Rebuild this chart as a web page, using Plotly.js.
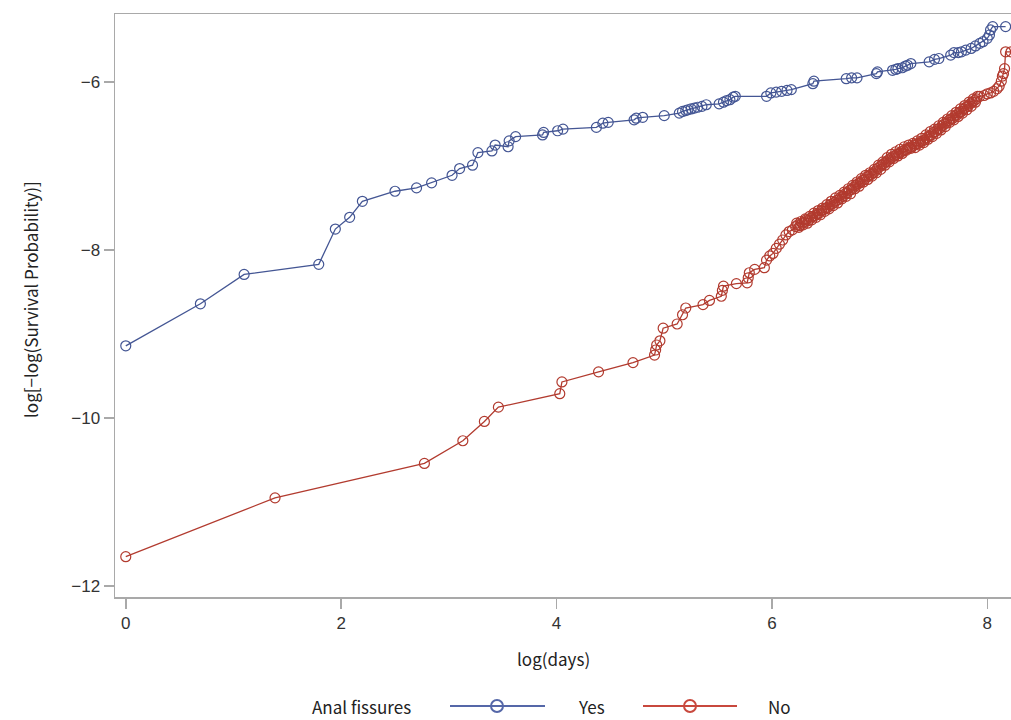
<!DOCTYPE html>
<html>
<head>
<meta charset="utf-8">
<script src="https://cdn.plot.ly/plotly-3.0.1.min.js"></script>
<style>html,body{margin:0;padding:0;overflow:hidden;background:#fff;}</style>
</head>
<body>
<div id="chart" style="width:1011px;height:720px;"></div>
<script>
// Series "Yes" (anal fissures present)
const yesX = [0, 0.693, 1.099, 1.792, 1.946, 2.079, 2.197, 2.50, 2.70, 2.84, 3.03, 3.10, 3.22, 3.27, 3.40, 3.43, 3.55, 3.56, 3.62, 3.87, 3.88, 4.01, 4.06, 4.37, 4.43, 4.48, 4.72, 4.74, 4.80, 5.00, 5.14, 5.17, 5.20, 5.22, 5.25, 5.28, 5.31, 5.35, 5.39, 5.51, 5.55, 5.58, 5.61, 5.64, 5.66, 5.95, 5.99, 6.04, 6.09, 6.14, 6.18, 6.38, 6.39, 6.69, 6.74, 6.79, 6.97, 6.98, 7.12, 7.15, 7.17, 7.21, 7.24, 7.26, 7.29, 7.46, 7.51, 7.55, 7.66, 7.69, 7.73, 7.76, 7.80, 7.85, 7.89, 7.93, 7.96, 8.00, 8.02, 8.03, 8.05, 8.17];
const yesY = [-9.14, -8.64, -8.29, -8.17, -7.75, -7.61, -7.42, -7.30, -7.26, -7.20, -7.11, -7.03, -6.99, -6.84, -6.82, -6.75, -6.77, -6.70, -6.65, -6.63, -6.60, -6.58, -6.56, -6.54, -6.49, -6.48, -6.45, -6.43, -6.42, -6.40, -6.37, -6.35, -6.34, -6.33, -6.32, -6.31, -6.30, -6.29, -6.27, -6.26, -6.24, -6.22, -6.21, -6.18, -6.17, -6.17, -6.13, -6.12, -6.11, -6.10, -6.09, -6.02, -5.99, -5.96, -5.95, -5.95, -5.90, -5.88, -5.86, -5.85, -5.84, -5.83, -5.81, -5.80, -5.78, -5.76, -5.73, -5.72, -5.68, -5.65, -5.65, -5.64, -5.62, -5.60, -5.57, -5.54, -5.52, -5.48, -5.44, -5.38, -5.34, -5.34];

// Series "No"
const noX = [0, 1.386, 2.773, 3.13, 3.33, 3.46, 4.03, 4.05, 4.39, 4.71, 4.91, 4.92, 4.93, 4.96, 4.99, 5.12, 5.17, 5.20, 5.36, 5.42, 5.53, 5.54, 5.55, 5.67, 5.77, 5.78, 5.79, 5.84, 5.93, 5.95, 5.98, 6.01, 6.04, 6.07, 6.10, 6.13, 6.16, 6.19, 6.22,
  6.24, 6.26, 6.28, 6.30, 6.32, 6.34, 6.36, 6.38, 6.40, 6.42, 6.44, 6.46, 6.48, 6.50, 6.52, 6.54, 6.56, 6.58, 6.60, 6.62, 6.64, 6.66, 6.68, 6.70, 6.72, 6.74, 6.76, 6.78, 6.80, 6.82, 6.84, 6.86, 6.88, 6.90, 6.92, 6.94, 6.96, 6.98, 7.00, 7.02, 7.04, 7.06, 7.08, 7.10, 7.12, 7.14, 7.16, 7.18, 7.20, 7.22, 7.24, 7.26, 7.28,
  7.30, 7.32, 7.34, 7.36, 7.38, 7.40, 7.42, 7.44, 7.46, 7.48, 7.50, 7.52, 7.54, 7.56, 7.58, 7.60, 7.62, 7.64, 7.66, 7.68, 7.70, 7.72, 7.74, 7.76, 7.78, 7.80, 7.82, 7.84, 7.86, 7.88, 7.90,
  7.93, 7.97, 8.00, 8.03, 8.06, 8.09, 8.11, 8.13, 8.14, 8.15, 8.16, 8.17, 8.22];
const noY = [-11.65, -10.95, -10.54, -10.27, -10.04, -9.87, -9.71, -9.57, -9.45, -9.34, -9.25, -9.19, -9.13, -9.08, -8.93, -8.88, -8.77, -8.69, -8.65, -8.60, -8.55, -8.48, -8.43, -8.40, -8.39, -8.33, -8.27, -8.23, -8.21, -8.12, -8.07, -8.04, -7.98, -7.93, -7.88, -7.82, -7.78, -7.76, -7.72,
  -7.70, -7.71, -7.68, -7.67, -7.64, -7.65, -7.62, -7.60, -7.59, -7.57, -7.56, -7.53, -7.52, -7.50, -7.49, -7.46, -7.45, -7.43, -7.41, -7.40, -7.37, -7.36, -7.33, -7.32, -7.29, -7.28, -7.25, -7.23, -7.21, -7.20, -7.17, -7.16, -7.13, -7.12, -7.10, -7.08, -7.06, -7.03, -7.01, -6.99, -6.97, -6.95, -6.93, -6.91, -6.89, -6.88, -6.86, -6.85, -6.83, -6.82, -6.80, -6.79, -6.78,
  -6.77, -6.75, -6.74, -6.73, -6.71, -6.70, -6.69, -6.66, -6.64, -6.63, -6.60, -6.59, -6.56, -6.55, -6.52, -6.50, -6.49, -6.46, -6.44, -6.43, -6.40, -6.39, -6.36, -6.35, -6.32, -6.30, -6.29, -6.26, -6.24, -6.22, -6.20,
  -6.17, -6.16, -6.14, -6.13, -6.11, -6.08, -6.05, -5.99, -5.93, -5.90, -5.84, -5.64, -5.64];
// Additional "No" points in the crowded stretch (read as the scatter around the band)
const noExtraX = [6.23, 6.25, 6.27, 6.29, 6.31, 6.33, 6.35, 6.37, 6.39, 6.41, 6.43, 6.45, 6.47, 6.49, 6.51, 6.53, 6.55, 6.57, 6.59, 6.61, 6.63, 6.65, 6.67, 6.69, 6.71, 6.73, 6.75, 6.77, 6.79, 6.81, 6.83, 6.85, 6.87, 6.89, 6.91, 6.93, 6.95, 6.97, 6.99, 7.01, 7.03, 7.05, 7.07, 7.09, 7.11, 7.13, 7.15, 7.17, 7.19, 7.21, 7.23, 7.25, 7.27, 7.29, 7.31, 7.33, 7.35, 7.37, 7.39, 7.41, 7.43, 7.45, 7.47, 7.49, 7.51, 7.53, 7.55, 7.57, 7.59, 7.61, 7.63, 7.65, 7.67, 7.69, 7.71, 7.73, 7.75, 7.77, 7.79, 7.81, 7.83, 7.85, 7.87, 7.89, 7.91];
const noExtraY = [-7.68, -7.73, -7.66, -7.70, -7.63, -7.68, -7.60, -7.64, -7.56, -7.61, -7.53, -7.58, -7.50, -7.54, -7.46, -7.51, -7.42, -7.47, -7.38, -7.44, -7.35, -7.39, -7.31, -7.36, -7.27, -7.33, -7.23, -7.27, -7.19, -7.24, -7.15, -7.19, -7.11, -7.16, -7.08, -7.12, -7.04, -7.08, -6.99, -7.04, -6.95, -6.99, -6.90, -6.95, -6.86, -6.91, -6.83, -6.88, -6.80, -6.85, -6.77, -6.81, -6.75, -6.79, -6.73, -6.78, -6.70, -6.75, -6.67, -6.72, -6.63, -6.68, -6.59, -6.65, -6.56, -6.61, -6.52, -6.57, -6.48, -6.53, -6.44, -6.48, -6.40, -6.45, -6.36, -6.41, -6.32, -6.37, -6.28, -6.33, -6.24, -6.29, -6.20, -6.24, -6.17];

const xTicks = [0, 2, 4, 6, 8];
const yTicks = [-12, -10, -8, -6];
const legendTitle = "Anal fissures";
const groupNames = ["Yes", "No"];

const BLUE = "#445694";
const RED = "#B23B2F";
const AXIS = "#a9a9a9";
const FONT = "Liberation Sans, Arial, sans-serif";
const LFONT = "Noto Sans CJK KR, Noto Sans, sans-serif";

// merge the "No" arrays in time order
const noPairs = noX.map((x, i) => [x, noY[i]]).concat(noExtraX.map((x, i) => [x, noExtraY[i]]));
noPairs.sort((a, b) => a[0] - b[0]);

function trace(x, y, color, name) {
  return {
    x: x, y: y, name: name, type: "scatter", mode: "lines+markers",
    line: {color: color, width: 1.3},
    marker: {symbol: "circle-open", size: 10, color: color, line: {color: color, width: 1.2}},
    showlegend: false
  };
}

const data = [
  trace(yesX, yesY, BLUE, groupNames[0]),
  trace(noPairs.map(p => p[0]), noPairs.map(p => p[1]), RED, groupNames[1])
];

// custom legend geometry (paper coords)
const plotL = 115, plotW = 896, plotT = 14, plotH = 583;
const px = v => (v - plotL) / plotW;
const py = v => (plotT + plotH - v) / plotH;
const legY = py(706);
const rx = 6 / plotW, ry = 6 / plotH;

const shapes = [
  {type: "line", xref: "paper", yref: "paper", x0: px(450), x1: px(545), y0: legY, y1: legY, line: {color: "#5567a8", width: 2}},
  {type: "circle", xref: "paper", yref: "paper", x0: px(497) - rx, x1: px(497) + rx, y0: legY - ry, y1: legY + ry, line: {color: "#5567a8", width: 2}, fillcolor: "rgba(0,0,0,0)"},
  {type: "line", xref: "paper", yref: "paper", x0: px(643), x1: px(737), y0: legY, y1: legY, line: {color: "#c8483d", width: 2}},
  {type: "circle", xref: "paper", yref: "paper", x0: px(690) - rx, x1: px(690) + rx, y0: legY - ry, y1: legY + ry, line: {color: "#c8483d", width: 2}, fillcolor: "rgba(0,0,0,0)"}
];

const annotations = [
  {text: legendTitle, xref: "paper", yref: "paper", x: px(361), y: legY, xanchor: "center", yanchor: "middle", showarrow: false, font: {family: LFONT, size: 17, color: "#222"}},
  {text: groupNames[0], xref: "paper", yref: "paper", x: px(576), y: legY, xanchor: "left", yanchor: "middle", showarrow: false, font: {family: LFONT, size: 17, color: "#222"}},
  {text: groupNames[1], xref: "paper", yref: "paper", x: px(766), y: legY, xanchor: "left", yanchor: "middle", showarrow: false, font: {family: LFONT, size: 17, color: "#222"}},
  {text: "log(days)", xref: "paper", yref: "paper", x: px(553), y: py(658), xanchor: "center", yanchor: "middle", showarrow: false, font: {family: LFONT, size: 17, color: "#222"}},
  {text: "log[\u2212log(Survival Probability)]", xref: "paper", yref: "paper", x: px(30), y: py(300), xanchor: "center", yanchor: "middle", textangle: -90, showarrow: false, font: {family: LFONT, size: 17, color: "#222"}}
];

const layout = {
  width: 1011, height: 720,
  margin: {l: 115, r: 0, t: 14, b: 123},
  paper_bgcolor: "#fff", plot_bgcolor: "#fff",
  showlegend: false,
  xaxis: {
    range: [-0.1, 8.22], tickvals: xTicks, ticktext: xTicks.map(String),
    showline: true, mirror: true, linecolor: AXIS, linewidth: 1.5,
    ticks: "outside", ticklen: 10, tickwidth: 1.5, tickcolor: AXIS,
    showgrid: false, zeroline: false,
    tickfont: {family: FONT, size: 17, color: "#333"}
  },
  yaxis: {
    range: [-12.13, -5.19], tickvals: yTicks, ticktext: yTicks.map(v => "\u2212" + Math.abs(v)),
    showline: true, mirror: false, linecolor: AXIS, linewidth: 1.5,
    ticks: "outside", ticklen: 10, tickwidth: 1.5, tickcolor: AXIS,
    showgrid: false, zeroline: false,
    tickfont: {family: FONT, size: 17, color: "#333"}
  },
  shapes: shapes,
  annotations: annotations
};

Plotly.newPlot("chart", data, layout, {displayModeBar: false, staticPlot: true});
</script>
</body>
</html>
